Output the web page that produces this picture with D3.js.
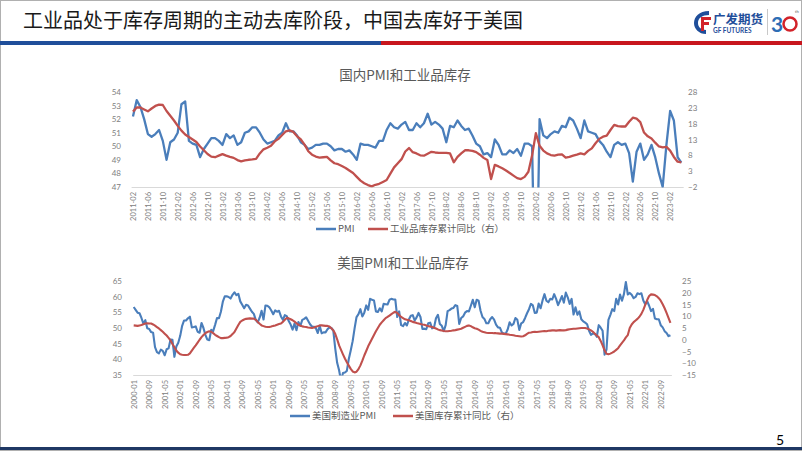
<!DOCTYPE html>
<html><head><meta charset="utf-8">
<script src="https://cdn.jsdelivr.net/npm/d3@7"></script>
<style>body{margin:0;background:#fff;}svg{display:block;}</style>
</head><body>
<svg id="c" width="802" height="451"></svg>
<script>
// ---------- DATA ----------
const cnStart = [2011, 2];
const cnPMI = [52.2,53.4,52.9,52.0,50.9,50.7,50.9,51.2,50.4,49.0,50.3,
50.5,51.0,53.1,53.3,50.4,50.2,50.1,49.2,49.8,50.2,50.6,50.6,
50.4,50.1,50.9,50.6,50.8,50.1,50.3,51.0,51.1,51.4,51.4,51.0,
50.5,50.2,50.3,50.4,50.8,51.0,51.7,51.1,51.1,50.8,50.3,50.1,
49.8,49.9,50.1,50.1,50.2,50.2,50.0,49.7,49.8,49.8,49.6,49.7,
49.4,49.0,50.2,50.1,50.1,50.0,49.9,50.4,50.4,51.2,51.7,51.4,
51.3,51.6,51.8,51.2,51.2,51.7,51.4,51.7,52.4,51.6,51.8,51.6,
51.3,50.3,51.5,51.4,51.9,51.5,51.2,51.3,50.8,50.2,50.0,49.4,
49.5,49.2,50.5,50.1,49.4,49.4,49.7,49.5,49.8,49.3,50.2,50.2,
50.0,35.7,52.0,50.8,50.6,50.9,51.1,51.0,51.5,51.4,52.1,51.9,
51.3,50.6,51.9,51.1,51.0,50.9,50.4,50.1,49.6,49.2,50.1,50.3,
50.1,50.2,49.5,47.4,49.6,50.2,49.0,49.4,50.1,49.2,48.0,47.0,
50.1,52.6,51.9,49.2,48.8];
const cnInv = [21.8,23.1,23.1,22.5,21.9,22.8,23.6,24.0,23.9,22.0,
20.5,19.0,17.3,15.8,14.6,13.8,13.0,12.2,10.8,9.6,
8.4,7.6,7.4,7.9,8.4,7.9,7.5,7.2,6.5,6.1,
6.4,6.6,6.7,6.9,8.6,9.9,10.4,11.0,12.4,13.2,
14.4,15.6,15.9,15.4,14.0,13.0,11.4,9.3,8.2,7.6,
7.3,7.4,7.5,6.4,5.5,5.2,4.6,4.0,3.2,2.4,
1.2,0.0,-0.8,-1.4,-1.8,-1.3,-1.0,-0.4,0.2,2.2,
4.2,5.5,6.8,9.2,10.3,9.0,8.6,8.0,7.9,8.5,
9.1,8.9,8.8,8.8,8.8,8.6,5.8,7.5,8.6,9.6,
9.6,9.4,9.0,8.2,7.2,6.5,0.5,5.0,4.5,3.9,
3.2,2.4,1.6,0.8,0.5,1.2,2.8,8.0,15.0,11.0,
9.5,8.6,8.1,7.9,8.2,8.3,7.3,7.5,7.9,8.2,
8.6,8.3,9.4,10.2,11.8,13.2,13.9,14.2,16.0,17.6,
17.2,17.1,17.1,18.6,19.9,19.6,18.5,15.2,14.0,13.3,
12.0,10.8,10.5,10.7,9.5,7.5,6.0,5.8];
const cnTickLabels = ["2011-02","2011-06","2011-10","2012-02","2012-06","2012-10","2013-02","2013-06","2013-10",
"2014-02","2014-06","2014-10","2015-02","2015-06","2015-10","2016-02","2016-06","2016-10","2017-02","2017-06","2017-10",
"2018-02","2018-06","2018-10","2019-02","2019-06","2019-10","2020-02","2020-06","2020-10","2021-02","2021-06","2021-10",
"2022-02","2022-06","2022-10","2023-02"];
const cnLeftTicks = [47,48,49,50,51,52,53,54];
const cnRightTicks = [-2,3,8,13,18,23,28];

const usStart = [2000, 1];
const usPMI = [56.7,55.8,54.9,54.7,53.2,51.4,52.5,49.9,49.7,48.7,48.5,43.9,
42.3,41.9,43.1,42.7,41.3,43.2,43.5,46.3,46.2,40.8,44.1,45.3,
47.5,50.7,52.4,52.4,53.1,53.6,50.2,50.3,50.5,48.8,48.5,51.6,
50.0,47.8,46.3,46.1,49.4,49.0,51.0,53.2,53.1,55.2,58.4,60.1,
60.1,59.9,59.4,60.6,61.4,60.5,60.9,58.5,57.4,56.3,57.4,57.2,
56.2,55.2,54.5,52.6,51.8,53.3,55.5,52.7,57.2,57.1,56.6,55.6,
54.4,55.6,55.2,55.5,53.7,52.6,54.1,53.8,52.2,51.1,49.5,51.4,
49.3,51.9,50.7,52.6,52.9,53.4,52.3,51.2,50.5,50.4,50.0,48.4,
50.7,48.3,48.6,48.6,49.6,50.2,50.0,49.2,43.5,38.9,36.5,33.1,
35.6,35.8,36.3,40.1,42.8,45.8,49.9,53.5,54.4,56.0,53.7,54.9,
57.2,55.8,59.3,59.0,58.8,55.3,55.1,56.3,55.3,57.7,57.6,57.5,
59.0,59.3,59.1,59.1,53.5,55.3,50.9,50.6,51.6,50.8,52.7,53.9,
54.1,52.4,53.4,54.8,53.5,49.7,49.8,49.6,51.5,51.7,49.9,50.2,
53.1,54.2,51.3,50.7,49.0,50.9,55.4,55.7,56.2,56.4,57.3,57.0,
51.3,53.2,53.7,54.9,55.4,55.3,57.1,59.0,56.6,59.0,58.7,55.5,
53.5,52.9,51.5,51.5,52.8,53.5,52.7,51.1,50.2,50.1,48.6,48.2,
48.2,49.5,51.8,50.8,51.3,53.2,52.6,49.4,51.5,51.9,53.2,54.7,
56.0,57.7,57.2,54.8,54.9,57.8,56.3,58.8,60.8,58.7,58.2,59.3,
59.1,60.8,59.3,57.3,58.7,60.2,58.1,61.3,59.8,57.7,59.3,54.3,
56.6,54.2,55.3,52.8,52.1,51.7,51.2,49.1,47.8,48.3,48.1,47.2,
50.9,50.1,49.1,41.5,43.1,52.6,54.2,56.0,55.4,59.3,57.5,60.7,
58.7,60.8,64.7,60.7,61.2,60.6,59.5,59.9,61.1,60.8,61.1,58.8,
57.6,58.6,57.1,55.4,56.1,53.0,52.8,52.8,50.9,50.2,49.0,48.4,
47.4,47.7];
const usInv = [6.1,6.0,5.9,6.1,6.3,6.6,6.9,7.0,6.9,6.9,
6.5,6.0,5.4,4.8,4.1,3.4,2.6,1.8,0.8,-0.3,
-1.8,-3.2,-4.6,-5.5,-6.2,-6.4,-6.5,-6.5,-6.4,-5.8,
-4.6,-3.5,-2.4,-1.2,0.0,1.1,2.0,2.8,3.3,3.6,
3.4,2.8,2.1,1.6,1.1,0.7,0.7,0.8,0.9,1.1,
1.6,2.4,3.3,4.8,6.3,7.6,8.2,8.6,8.9,9.0,
9.1,9.0,9.0,8.5,7.6,6.8,6.1,5.8,5.5,5.4,
5.4,5.6,5.9,6.1,6.4,6.7,6.9,7.6,8.5,9.3,
9.1,8.7,8.3,7.7,7.0,6.4,6.0,5.7,5.5,5.4,
5.2,5.1,5.0,5.2,5.5,5.8,6.1,6.1,6.0,5.9,
5.9,5.6,4.9,4.0,2.5,0.2,-2.4,-4.3,-6.2,-8.0,
-9.6,-11.0,-12.4,-13.5,-13.9,-13.6,-12.5,-10.9,-8.9,-6.7,
-4.8,-2.8,-1.2,0.4,2.0,3.6,5.0,6.4,7.4,8.3,
9.2,9.7,10.3,10.9,11.5,11.9,11.4,10.5,9.7,9.2,
8.7,8.5,8.3,8.0,7.6,7.4,7.1,6.9,6.7,6.5,
6.4,6.1,5.8,5.6,5.4,5.1,4.8,4.4,4.1,3.9,
3.7,3.6,3.6,3.7,3.8,4.0,4.1,4.3,4.5,4.7,
5.1,5.5,5.9,6.1,5.8,5.3,4.9,4.7,4.3,3.8,
3.4,3.2,3.0,2.9,2.9,2.9,2.8,2.8,2.7,2.6,
2.6,2.5,2.4,2.3,2.1,2.0,1.9,1.7,1.6,1.5,
1.4,1.5,1.9,2.5,3.0,3.1,3.3,3.4,3.3,3.4,
3.5,3.6,3.7,3.6,3.8,3.9,4.0,4.0,3.9,4.0,
4.1,4.0,4.0,4.1,4.3,4.5,4.6,4.7,4.7,4.8,
4.9,5.0,5.0,5.0,4.8,4.4,4.0,3.4,2.6,1.8,
1.1,-0.5,-2.4,-4.5,-6.0,-6.2,-5.9,-5.5,-5.0,-4.3,
-3.6,-2.4,-1.3,-0.3,1.0,2.0,5.0,6.5,7.5,8.2,
8.9,9.8,11.0,12.7,14.8,16.9,18.6,19.3,19.2,19.0,
18.5,17.7,16.6,15.1,13.4,11.4,9.3,7.2];
const usTickLabels = ["2000-01","2000-09","2001-05","2002-01","2002-09","2003-05","2004-01","2004-09","2005-05",
"2006-01","2006-09","2007-05","2008-01","2008-09","2009-05","2010-01","2010-09","2011-05","2012-01","2012-09",
"2013-05","2014-01","2014-09","2015-05","2016-01","2016-09","2017-05","2018-01","2018-09","2019-05","2020-01",
"2020-09","2021-05","2022-01","2022-09"];
const usLeftTicks = [35,40,45,50,55,60,65];
const usRightTicks = [-15,-10,-5,0,5,10,15,20,25];

// ---------- HELPERS ----------
function months(start, n){
  const out=[]; let y=start[0], m=start[1];
  for(let i=0;i<n;i++){ out.push(y+"-"+String(m).padStart(2,"0")); m++; if(m>12){m=1;y++;} }
  return out;
}
const BLUE="#4A7EBB", RED="#C0504D", GRAY="#808080";
const CJK="'Noto Sans CJK SC','Noto Sans',sans-serif";
const NUM="Lato,'Liberation Sans',sans-serif";
const svg=d3.select("#c");
const fmt=d3.format("d");

// ---------- HEADER ----------
svg.append("rect").attr("x",0.5).attr("y",0.5).attr("width",801).attr("height",450)
  .attr("fill","none").attr("stroke","#b0b0b0");
svg.append("text").attr("x",23).attr("y",28).attr("font-family",CJK).attr("font-size",20)
  .attr("fill","#1a1a1a").text("工业品处于库存周期的主动去库阶段，中国去库好于美国");
svg.append("rect").attr("x",0).attr("y",41).attr("width",381).attr("height",4).attr("fill","#1F4E9A");
svg.append("rect").attr("x",381).attr("y",41).attr("width",421).attr("height",4).attr("fill","#C8161D");
// logo
const lg=svg.append("g");
lg.append("path").attr("d","M709,11 C699,11 694,17 694,23 C694,29 699,34 706,34 L706,30 C701,30 698,27 698,23 C698,18 702,15 709,15 Z").attr("fill","#1F4E9A");
lg.append("rect").attr("x",701).attr("y",17).attr("width",10).attr("height",3).attr("fill","#D2232A");
lg.append("rect").attr("x",701).attr("y",22).attr("width",8).attr("height",3).attr("fill","#D2232A");
lg.append("rect").attr("x",701).attr("y",17).attr("width",3).attr("height",14).attr("fill","#D2232A");
lg.append("text").attr("x",713).attr("y",24).attr("font-family",CJK).attr("font-weight",700).attr("font-size",12.5).attr("fill","#1F4E9A").text("广发期货");
lg.append("text").attr("x",713).attr("y",33).attr("font-family",NUM).attr("font-weight",700).attr("font-size",6.5).attr("fill","#1F4E9A").text("GF FUTURES");
lg.append("line").attr("x1",767.5).attr("x2",767.5).attr("y1",9).attr("y2",35).attr("stroke","#c8c8c8");
lg.append("text").attr("x",771).attr("y",32).attr("font-family",NUM).attr("font-weight",700).attr("font-size",21).attr("fill","#2D6DB5").text("3");
lg.append("circle").attr("cx",790).attr("cy",24).attr("r",6.5).attr("fill","none").attr("stroke","#D2232A").attr("stroke-width",2.5);
lg.append("text").attr("x",795).attr("y",13).attr("font-family",NUM).attr("font-size",4).attr("fill","#555").text("th");

// ---------- CHART FUNCTION ----------
function drawChart(o){
  const cats=months(o.start,o.left.length);
  const x=d3.scalePoint().domain(cats).range([o.x0,o.x1]).padding(0.5);
  const yL=d3.scaleLinear().domain(o.lDom).range([o.yB,o.yT]);
  const yR=d3.scaleLinear().domain(o.rDom).range([o.yB,o.yT]);
  const g=svg.append("g");
  g.append("text").attr("x",o.titleX).attr("y",o.titleY).attr("text-anchor","middle")
    .attr("font-family",CJK).attr("font-size",13.5).attr("fill","#595959").text(o.title);
  // x axis
  const ax=g.append("g").attr("transform",`translate(0,${o.yB})`)
    .call(d3.axisBottom(x).tickValues(o.ticks).tickSize(0).tickSizeOuter(0));
  ax.select(".domain").attr("stroke","#d9d9d9");
  ax.selectAll("text").attr("transform","rotate(-90)").attr("text-anchor","end")
    .attr("x",-5).attr("y",0).attr("dy","0.35em")
    .attr("font-family",NUM).attr("font-size",7.5).attr("fill",GRAY);
  // y axes
  const al=g.append("g").attr("transform",`translate(${o.lX},0)`)
    .call(d3.axisLeft(yL).tickValues(o.lTicks).tickFormat(fmt).tickSize(0).tickPadding(0));
  al.select(".domain").remove();
  al.selectAll("text").attr("font-family",NUM).attr("font-size",8).attr("fill",GRAY);
  const ar=g.append("g").attr("transform",`translate(${o.rX},0)`)
    .call(d3.axisRight(yR).tickValues(o.rTicks).tickFormat(fmt).tickSize(0).tickPadding(0));
  ar.select(".domain").remove();
  ar.selectAll("text").attr("font-family",NUM).attr("font-size",8).attr("fill",GRAY);
  // clip
  const cid="clip"+o.id;
  svg.append("clipPath").attr("id",cid).append("rect")
    .attr("x",o.x0).attr("y",o.yT-6).attr("width",o.x1-o.x0+4).attr("height",o.yB-o.yT+6.5);
  const lc=g.append("g").attr("clip-path",`url(#${cid})`);
  lc.append("path").datum(o.left).attr("fill","none").attr("stroke",BLUE).attr("stroke-width",o.sw)
    .attr("stroke-linejoin","round")
    .attr("d",d3.line().x((d,i)=>x(cats[i])).y(d=>yL(d)));
  lc.append("path").datum(o.right).attr("fill","none").attr("stroke",RED).attr("stroke-width",o.sw)
    .attr("stroke-linejoin","round")
    .attr("d",d3.line().x((d,i)=>x(cats[i])).y(d=>yR(d)));
  // legend
  const lgd=g.append("g");
  lgd.append("line").attr("x1",o.leg[0]).attr("x2",o.leg[0]+20).attr("y1",o.legY).attr("y2",o.legY)
    .attr("stroke",BLUE).attr("stroke-width",2.5);
  lgd.append("text").attr("x",o.leg[0]+22).attr("y",o.legY+3.2).attr("font-family",CJK)
    .attr("font-size",9.5).attr("fill","#595959").text(o.names[0]);
  lgd.append("line").attr("x1",o.leg[1]).attr("x2",o.leg[1]+20).attr("y1",o.legY).attr("y2",o.legY)
    .attr("stroke",RED).attr("stroke-width",2.5);
  lgd.append("text").attr("x",o.leg[1]+22).attr("y",o.legY+3.2).attr("font-family",CJK)
    .attr("font-size",9.5).attr("fill","#595959").text(o.names[1]);
}

drawChart({id:"cn",start:cnStart,left:cnPMI,right:cnInv,ticks:cnTickLabels,
  lDom:[47,54],rDom:[-2,28],lTicks:cnLeftTicks,rTicks:cnRightTicks,
  x0:131.1,x1:683.2,yT:92,yB:187,lX:121,rX:688,sw:2.3,
  title:"国内PMI和工业品库存",titleX:405,titleY:80,
  leg:[316,368],legY:229,names:["PMI","工业品库存累计同比（右）"]});

drawChart({id:"us",start:usStart,left:usPMI,right:usInv,ticks:usTickLabels,
  lDom:[35,65],rDom:[-15,25],lTicks:usLeftTicks,rTicks:usRightTicks,
  x0:132.73,x1:671.4,yT:281,yB:375,lX:122,rX:682,sw:2.1,
  title:"美国PMI和工业品库存",titleX:403,titleY:268,
  leg:[290,393],legY:416,names:["美国制造业PMI","美国库存累计同比（右）"]});

// ---------- FOOTER ----------
svg.append("rect").attr("x",0).attr("y",447).attr("width",802).attr("height",3).attr("fill","#1F3864");
svg.append("text").attr("x",776).attr("y",445).attr("font-family",NUM).attr("font-size",14).attr("fill","#000").text("5");
</script>
</body></html>
